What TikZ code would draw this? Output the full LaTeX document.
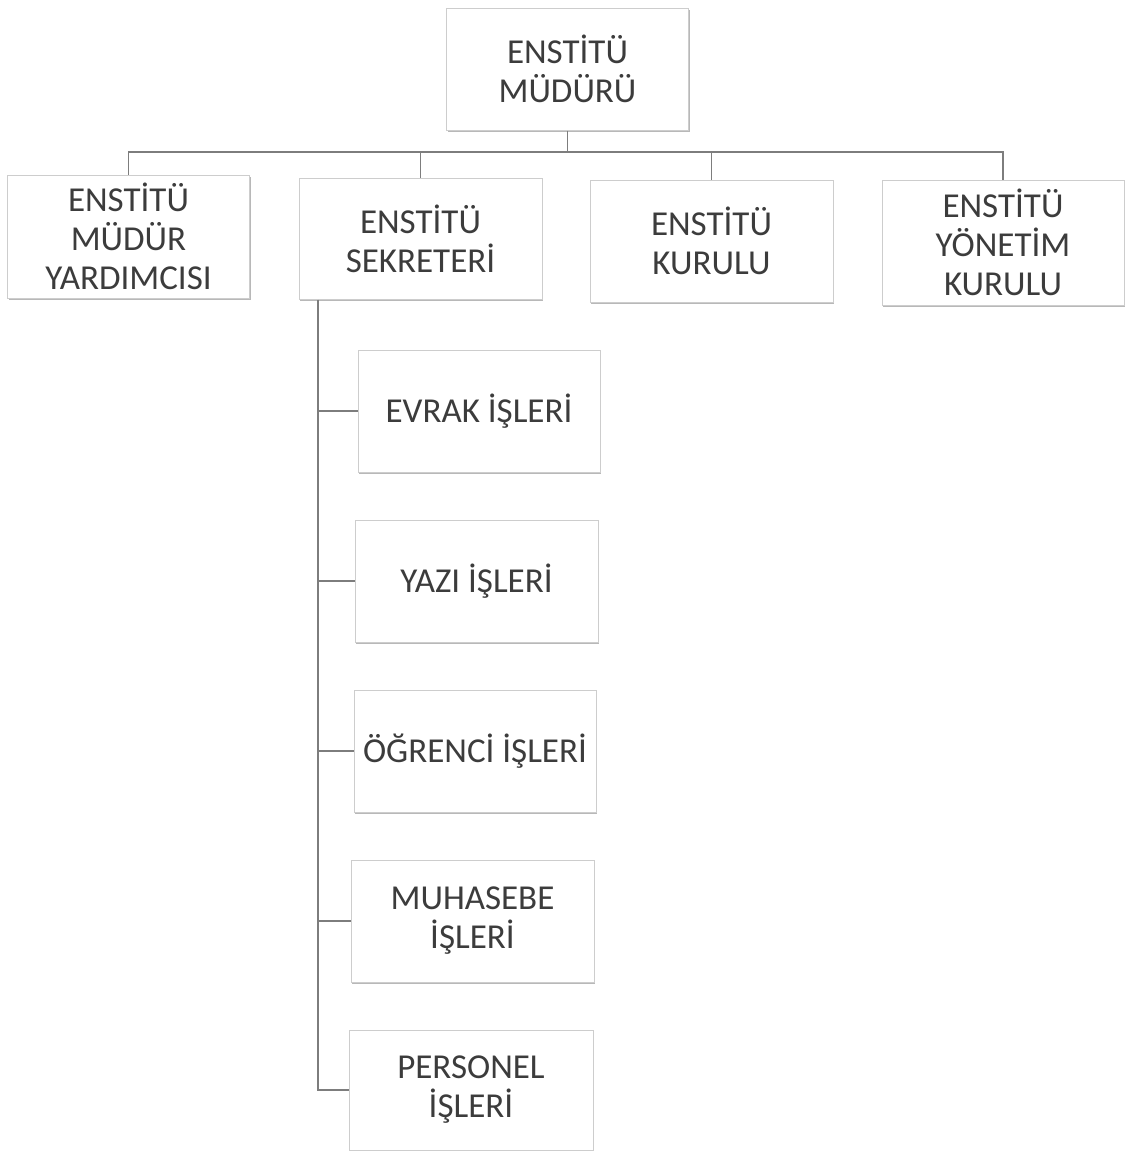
\documentclass[tikz,border=0pt]{standalone}
\usepackage{fontspec}
\setmainfont{Carlito}
\usetikzlibrary{shadows}
\definecolor{boxline}{RGB}{205,205,205}
\definecolor{conn}{RGB}{125,125,125}
\definecolor{txt}{RGB}{60,60,60}
\tikzset{
  orgbox/.style={draw=boxline, line width=1pt, fill=white,
    drop shadow={shadow xshift=1pt, shadow yshift=-2pt, fill=black!35, opacity=0.8},
    minimum width=242pt, minimum height=122pt, inner sep=2pt,
    align=center, text=txt, font=\fontsize{35}{39}\selectfont},
  link/.style={draw=conn, line width=1.8pt}
}
\begin{document}
\begin{tikzpicture}[x=1pt,y=-1pt]
\useasboundingbox (0,0) rectangle (1127,1151);
\node[orgbox] (top) at (567.5,69) {ENSTİTÜ\\MÜDÜRÜ};
\node[orgbox, minimum height=123pt] (b1) at (128.5,236.5) {ENSTİTÜ\\MÜDÜR\\YARDIMCISI};
\node[orgbox, minimum width=243pt, minimum height=121pt] (b2) at (420.5,238.5) {ENSTİTÜ\\SEKRETERİ};
\node[orgbox, minimum width=243pt] (b3) at (711.5,241) {ENSTİTÜ\\KURULU};
\node[orgbox, minimum height=125pt] (b4) at (1003,242.5) {ENSTİTÜ\\YÖNETİM\\KURULU};
\node[orgbox] (s1) at (479,411) {EVRAK İŞLERİ};
\node[orgbox, minimum width=243pt] (s2) at (476.5,581) {YAZI İŞLERİ};
\node[orgbox] (s3) at (475,751) {ÖĞRENCİ İŞLERİ};
\node[orgbox, minimum width=243pt] (s4) at (472.5,921) {MUHASEBE\\İŞLERİ};
\node[orgbox, minimum width=244pt, minimum height=120pt] (s5) at (471,1090) {PERSONEL\\İŞLERİ};
\coordinate (bus) at (567.5,152);
\coordinate (spine) at (318,299.5);
\draw[link] (top.south) -- (bus);
\draw[link] (b1.north) -- (b1.north |- bus) -- (b4.north |- bus) -- (b4.north);
\draw[link] (b2.north) -- (b2.north |- bus);
\draw[link] (b3.north) -- (b3.north |- bus);
\draw[link] (spine) |- (s5.west);
\draw[link] (spine |- s1.west) -- (s1.west);
\draw[link] (spine |- s2.west) -- (s2.west);
\draw[link] (spine |- s3.west) -- (s3.west);
\draw[link] (spine |- s4.west) -- (s4.west);
\end{tikzpicture}
\end{document}
